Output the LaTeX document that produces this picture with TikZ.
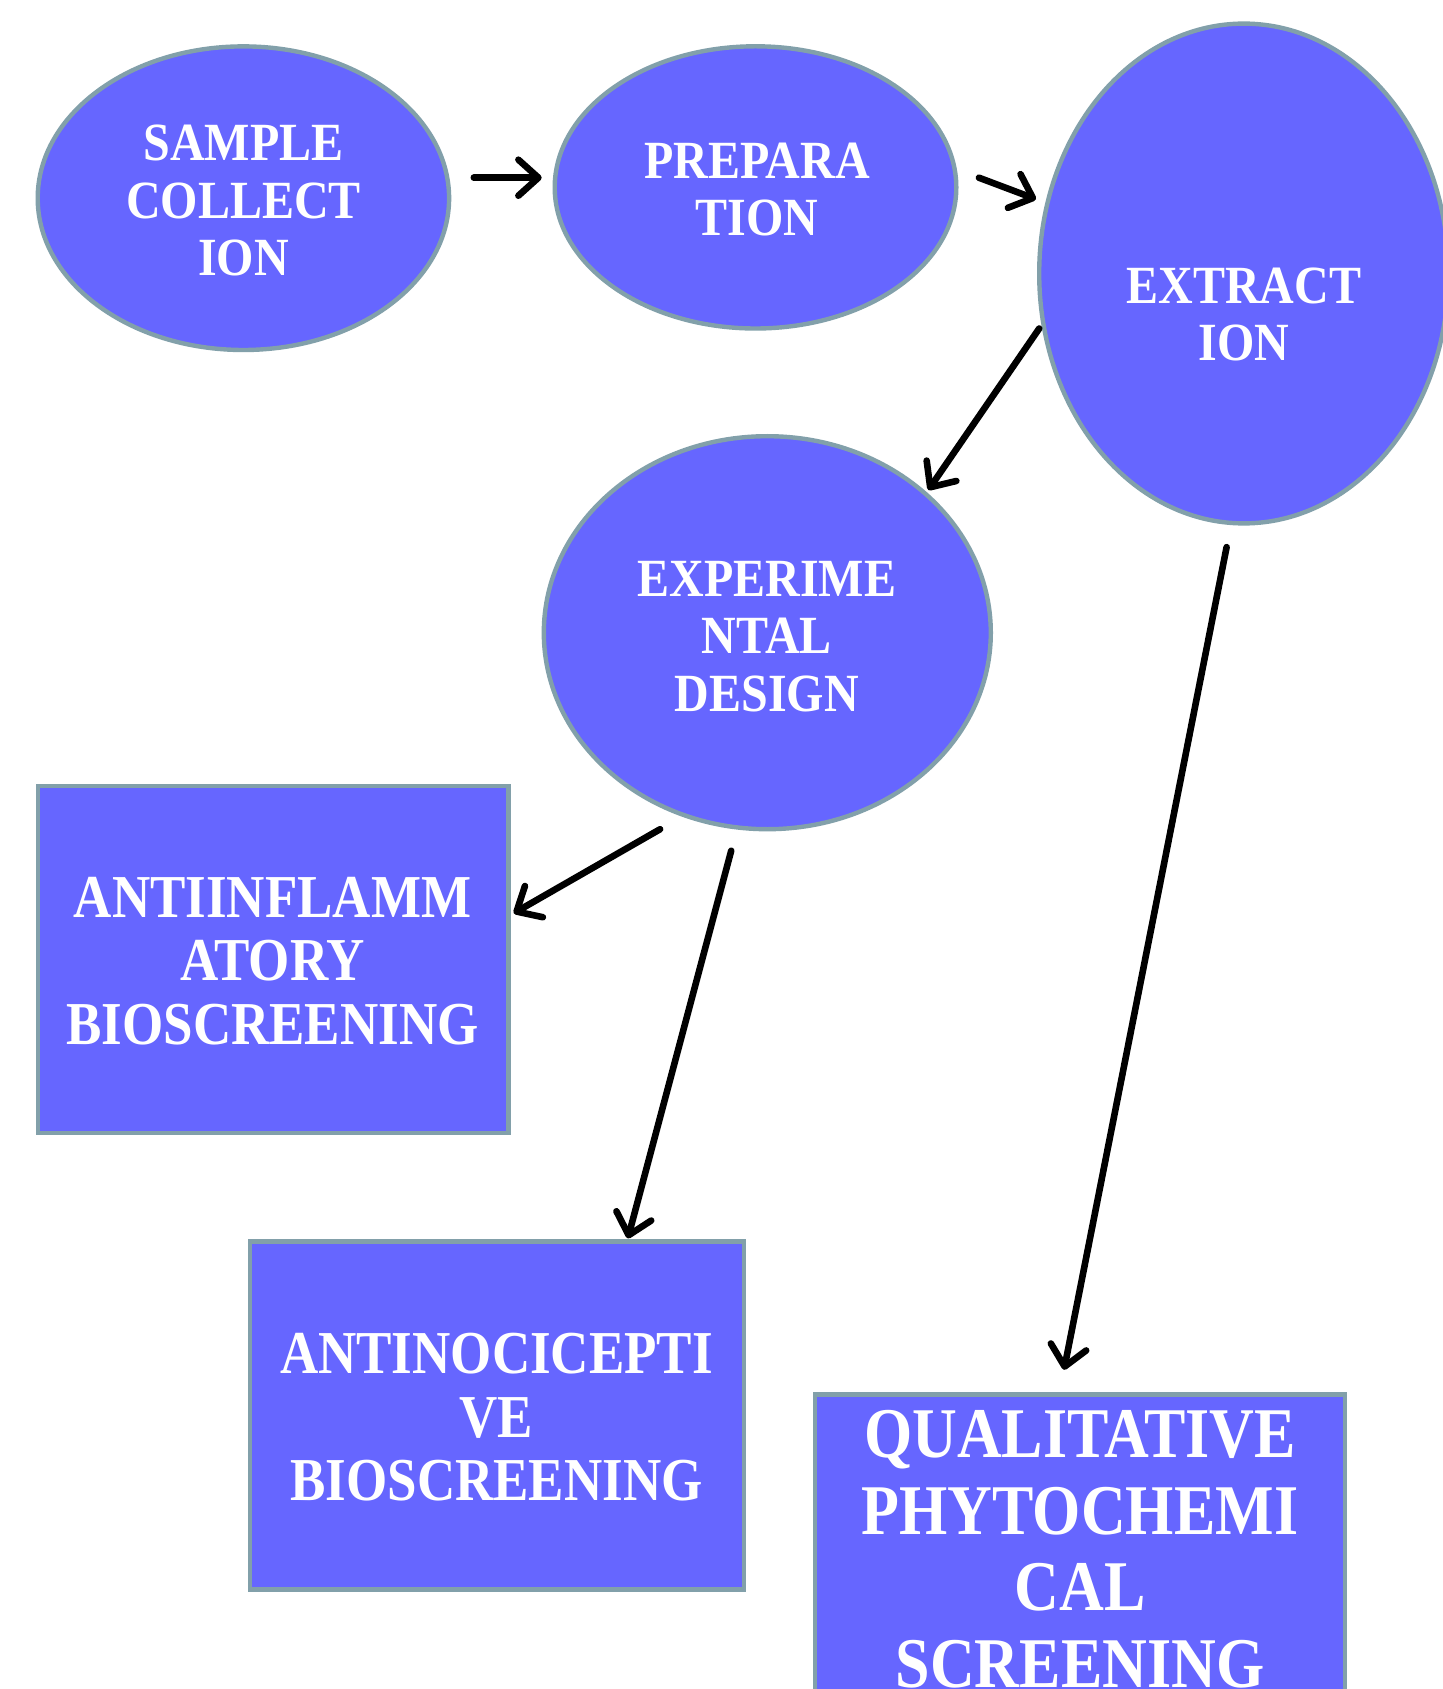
\documentclass[tikz,border=0pt]{standalone}
\usepackage{fontspec}
\usepackage{graphicx}
\setmainfont{Liberation Serif}
\usetikzlibrary{shapes.geometric,arrows.meta}
\definecolor{fillblue}{RGB}{102,102,255}
\definecolor{edgegray}{RGB}{130,160,170}
\newcommand{\stretchtext}[3]{\scalebox{1}[#1]{#2\begin{tabular}{@{}c@{}}#3\end{tabular}}}
\newcommand{\smallfont}{\bfseries\fontsize{24}{25.7}\selectfont}
\newcommand{\boxfont}{\bfseries\fontsize{26.5}{27.6}\selectfont}
\newcommand{\qualfont}{\bfseries\fontsize{31}{33.3}\selectfont}
\tikzset{
  ellnode/.style={ellipse, draw=edgegray, fill=fillblue, line width=2.2pt, inner sep=0pt},
  boxnode/.style={rectangle, draw=edgegray, fill=fillblue, line width=2.2pt, inner sep=0pt},
  txt/.style={text=white, inner sep=0pt, anchor=center},
  arr/.style={draw=black, line width=3.3pt, line cap=round, line join=round,
    -{Straight Barb[length=10pt,width=18pt,line cap=round,line join=round]}}
}
\begin{document}
\begin{tikzpicture}[x=0.5pt,y=-0.5pt]
\clip (0,0) rectangle (1443,1689);
\fill[white] (0,0) rectangle (1443,1689);
% shapes
\node[ellnode, minimum width=205.7pt, minimum height=151.8pt] (sample) at (243.4,198.2) {};
\node[ellnode, minimum width=200.8pt, minimum height=141.1pt] (prep) at (755.5,187.4) {};
\node[ellnode, minimum width=204.6pt, minimum height=249.9pt] (extract) at (1243.8,273.5) {};
\node[ellnode, minimum width=223.5pt, minimum height=196.5pt] (design) at (767.3,632.7) {};
\node[boxnode, minimum width=235.3pt, minimum height=173.4pt] (antiinf) at (273,959.5) {};
\node[boxnode, minimum width=247.2pt, minimum height=174pt] (antinoc) at (497,1415.6) {};
\node[boxnode, minimum width=265pt, minimum height=210pt] (qual) at (1080.2,1604.6) {};
% texts
\node[txt] (sampletxt) at (243.4,206.5) {\stretchtext{1.12}{\smallfont}{SAMPLE\\COLLECT\\ION}};
\node[txt] (preptxt) at (757,195.5) {\stretchtext{1.12}{\smallfont}{PREPARA\\TION}};
\node[txt] (extracttxt) at (1243.8,320.5) {\stretchtext{1.12}{\smallfont}{EXTRACT\\ION}};
\node[txt] (designtxt) at (766.8,642.4) {\stretchtext{1.12}{\smallfont}{EXPERIME\\NTAL\\DESIGN}};
\node[txt] (antiinftxt) at (272.5,968.1) {\stretchtext{1.15}{\boxfont}{ANTIINFLAMM\\ATORY\\BIOSCREENING}};
\node[txt] (antinoctxt) at (496.5,1424.7) {\stretchtext{1.15}{\boxfont}{ANTINOCICEPTI\\VE\\BIOSCREENING}};
\node[txt] (qualtxt) at (1080,1557) {\stretchtext{1.15}{\qualfont}{QUALITATIVE\\PHYTOCHEMI\\CAL\\SCREENING}};
% arrow end points
\coordinate (a1s) at (473.8,177.7);
\coordinate (a1e) at (541.7,177.7);
\coordinate (a2s) at (978.9,177.7);
\coordinate (a2e) at (1036,199.2);
\coordinate (a3s) at (1039.2,328.5);
\coordinate (a3e) at (928.3,490);
\coordinate (a4s) at (1226.6,547.1);
\coordinate (a4e) at (1064,1369.8);
\coordinate (a5s) at (660.1,829.2);
\coordinate (a5e) at (513.7,913.2);
\coordinate (a6s) at (731.2,850.7);
\coordinate (a6e) at (627.8,1238.4);
% arrows
\draw[arr] (a1s) -- (a1e);
\draw[arr] (a2s) -- (a2e);
\draw[arr] (a3s) -- (a3e);
\draw[arr] (a4s) -- (a4e);
\draw[arr] (a5s) -- (a5e);
\draw[arr] (a6s) -- (a6e);
\end{tikzpicture}
\end{document}
